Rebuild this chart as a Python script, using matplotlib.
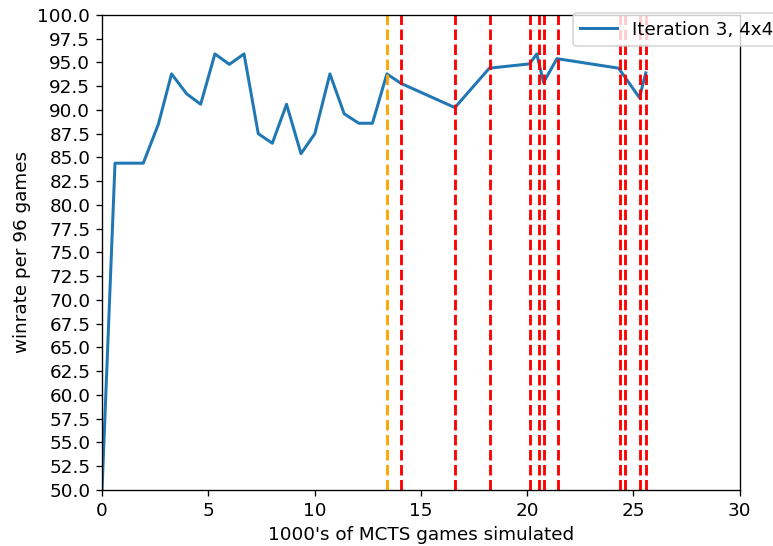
import matplotlib
matplotlib.use("Agg")
import matplotlib.pyplot as plt

plt.rcParams["font.size"] = 11

# winrate curve (x in 1000's of games)
games = [0.0, 0.61, 1.94, 2.65, 3.27, 3.98, 4.64, 5.31, 5.99, 6.68, 7.35, 8.01,
         8.68, 9.36, 10.01, 10.72, 11.39, 12.08, 12.72, 13.40, 14.06, 16.60,
         18.22, 20.11, 20.45, 20.77, 21.40, 24.30, 25.28, 25.58]
winrate = [50.0, 84.4, 84.4, 88.5, 93.8, 91.7, 90.6, 95.9, 94.8, 95.9, 87.5, 86.5,
           90.6, 85.4, 87.5, 93.8, 89.6, 88.6, 88.6, 93.8, 92.8, 90.25,
           94.4, 94.85, 95.9, 92.9, 95.4, 94.4, 91.3, 93.9]

# iteration markers
best_line = 13.41
new_best = [14.06, 16.61, 18.25, 20.15, 20.57, 20.80, 21.43, 24.35, 24.62, 25.30, 25.57]

fig = plt.figure(figsize=(773 / 120, 546 / 120), dpi=120)
ax = fig.add_axes([0.132, 0.1026, 0.825, 0.870])

ax.plot(games, winrate, label="Iteration 3, 4x4", linewidth=1.8)
ax.axvline(best_line, color="orange", linestyle="--", linewidth=1.7)
for g in new_best:
    ax.axvline(g, color="r", linestyle="--", linewidth=1.7)

ax.set_xlim(0, 30)
ax.set_ylim(50, 100)
ax.set_yticks([50 + 2.5 * i for i in range(21)])
ax.set_xlabel("1000's of MCTS games simulated")
ax.set_ylabel("winrate per 96 games")
ax.legend(loc="upper left", bbox_to_anchor=(0.724, 1.023))

fig.savefig("out.png", dpi=120)
